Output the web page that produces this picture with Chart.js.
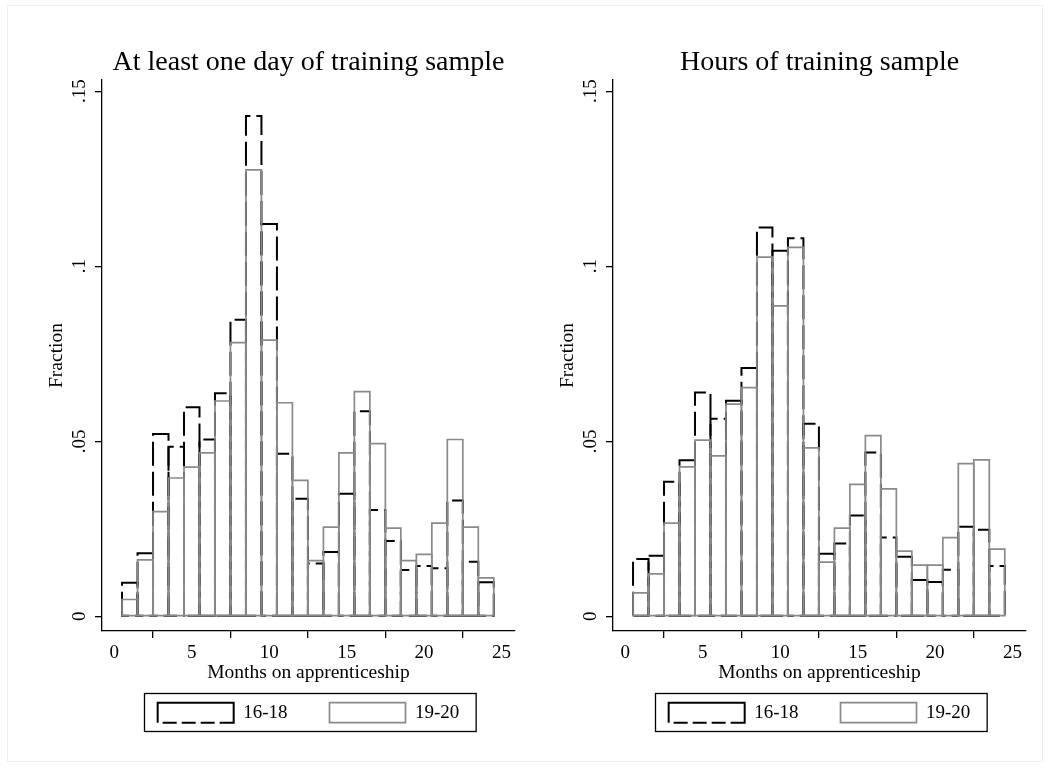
<!DOCTYPE html>
<html>
<head>
<meta charset="utf-8">
<script src="https://cdn.jsdelivr.net/npm/chart.js@4.4.1/dist/chart.umd.min.js"></script>
<style>
  html, body { margin: 0; padding: 0; background: #ffffff; overflow: hidden; }
  #page { position: relative; width: 1052px; height: 769px; background: #fff; }
  #frame { position: absolute; left: 7px; top: 5px; width: 1036px; height: 757px; border: 1px solid #efefef; box-sizing: border-box; }
  canvas { position: absolute; top: 0; }
  #c1 { left: 0px; }
  #c2 { left: 511px; }
</style>
</head>
<body>
<div id="page">
  <div id="frame"></div>
  <canvas id="c1" width="526" height="769"></canvas>
  <canvas id="c2" width="526" height="769"></canvas>
</div>
<script>
// ---------- data ----------
const months = [1,2,3,4,5,6,7,8,9,10,11,12,13,14,15,16,17,18,19,20,21,22,23,24];

const seriesNames = ['16-18', '19-20'];

const titles = ['At least one day of training sample', 'Hours of training sample'];

// "At least one day of training sample" panel
const dayTrain16_18 = [0.0096,0.0180,0.0521,0.0484,0.0597,0.0505,0.0637,0.0847,0.1429,0.1121,0.0464,0.0336,
                       0.0151,0.0184,0.0350,0.0586,0.0304,0.0215,0.0132,0.0144,0.0137,0.0331,0.0156,0.0097];
const dayTrain19_20 = [0.0048,0.0161,0.0299,0.0395,0.0426,0.0467,0.0615,0.0782,0.1275,0.0789,0.0610,0.0388,
                       0.0159,0.0255,0.0467,0.0642,0.0493,0.0252,0.0159,0.0177,0.0266,0.0505,0.0255,0.0110];

// "Hours of training sample" panel
const hoursTrain16_18 = [0.0164,0.0173,0.0384,0.0446,0.0639,0.0564,0.0616,0.0709,0.1111,0.1044,0.1080,0.0550,
                         0.0179,0.0208,0.0288,0.0468,0.0225,0.0170,0.0104,0.0098,0.0133,0.0256,0.0247,0.0144];
const hoursTrain19_20 = [0.0067,0.0121,0.0266,0.0427,0.0503,0.0458,0.0606,0.0653,0.1026,0.0887,0.1054,0.0481,
                         0.0155,0.0252,0.0377,0.0516,0.0364,0.0186,0.0146,0.0146,0.0225,0.0436,0.0447,0.0192];

const xTicks = [0, 5, 10, 15, 20, 25];
const yTicks = [0, 0.05, 0.1, 0.15];
const yTickLabels = ['0', '.05', '.1', '.15'];

const xTitle = 'Months on apprenticeship';
const yTitle = 'Fraction';

// ---------- styling ----------
const FONT = 'Liberation Serif';
const GRAY = '#8a8a8a';
const BLACK_DASH = [24, 6];
const LEGEND_DASH = [110, 5, 14, 5, 14, 5, 14, 5];

// outline drawing for histogram bars (Stata-style hollow bars)
const outlinePlugin = {
  id: 'outlineBars',
  afterDatasetsDraw(chart) {
    const ctx = chart.ctx;
    ctx.save();
    chart.data.datasets.forEach((ds, di) => {
      const meta = chart.getDatasetMeta(di);
      ctx.lineWidth = ds.outlineWidth;
      ctx.strokeStyle = ds.outlineColor;
      ctx.setLineDash(ds.outlineDash || []);
      ctx.lineJoin = 'miter';
      meta.data.forEach(bar => {
        const p = bar.getProps(['x', 'y', 'base', 'width'], true);
        const l = p.x - p.width / 2, r = p.x + p.width / 2;
        ctx.beginPath();
        ctx.moveTo(l, p.base);
        ctx.lineTo(l, p.y);
        ctx.lineTo(r, p.y);
        ctx.lineTo(r, p.base);
        ctx.closePath();
        ctx.stroke();
      });
    });
    ctx.restore();
  }
};

// frame around legend
const legendFrame = {
  id: 'legendFrame',
  afterDraw(chart) {
    const lg = chart.legend;
    if (!lg || !lg.lineWidths) return;
    const ctx = chart.ctx;
    const pad = lg.options.labels.padding;
    const boxH = lg.options.labels.boxHeight;
    const cw = lg.lineWidths[0] - pad;
    const cx = (lg.left + lg.right) / 2;
    const top = lg.top + pad;
    ctx.save();
    ctx.strokeStyle = '#000';
    ctx.lineWidth = 1.3;
    ctx.setLineDash([]);
    ctx.strokeRect(Math.round(cx - cw / 2 - 14) + 0.5, Math.round(top - 9.5) + 0.5, cw + 30, boxH + 18);
    ctx.restore();
  }
};

function makeChart(canvasId, title, d1618, d1920) {
  const ctx = document.getElementById(canvasId).getContext('2d');
  return new Chart(ctx, {
    type: 'bar',
    data: {
      labels: months,
      datasets: [
        {
          label: seriesNames[0],
          data: d1618,
          backgroundColor: 'rgba(0,0,0,0)',
          borderWidth: 0,
          outlineColor: '#000000',
          outlineWidth: 2,
          outlineDash: BLACK_DASH,
          barPercentage: 1,
          categoryPercentage: 1,
          grouped: false
        },
        {
          label: seriesNames[1],
          data: d1920,
          backgroundColor: 'rgba(0,0,0,0)',
          borderWidth: 0,
          outlineColor: GRAY,
          outlineWidth: 1.7,
          outlineDash: [],
          barPercentage: 1,
          categoryPercentage: 1,
          grouped: false
        }
      ]
    },
    options: {
      responsive: false,
      animation: false,
      devicePixelRatio: 1,
      events: [],
      layout: { autoPadding: false, padding: { left: 0, right: 11, top: 0, bottom: 36.3 } },
      plugins: {
        tooltip: { enabled: false },
        title: {
          display: true,
          text: title,
          fullSize: false,
          color: '#000',
          font: { family: FONT, size: 28, weight: 'normal', lineHeight: 1.2 },
          padding: { top: 45.5, bottom: 0.9 }
        },
        legend: {
          display: true,
          position: 'bottom',
          fullSize: false,
          labels: {
            boxWidth: 76,
            boxHeight: 20,
            padding: 42,
            color: '#000',
            font: { family: FONT, size: 19 },
            generateLabels(chart) {
              return chart.data.datasets.map((ds, i) => ({
                text: ds.label,
                fillStyle: 'rgba(0,0,0,0)',
                strokeStyle: ds.outlineColor,
                lineWidth: ds.outlineWidth,
                lineDash: i === 0 ? LEGEND_DASH : [],
                hidden: false,
                fontColor: '#000',
                datasetIndex: i
              }));
            }
          }
        }
      },
      scales: {
        x: {
          type: 'linear',
          min: -0.794,
          max: 25.87,
          offset: false,
          afterFit(s) { s.height = 29.7; },
          afterBuildTicks(s) { s.ticks = xTicks.map(v => ({ value: v })); },
          grid: { display: true, drawOnChartArea: false, drawTicks: true, tickLength: 7, color: '#000', lineWidth: 1.3 },
          border: { display: true, color: '#000', width: 1.3 },
          ticks: {
            color: '#000',
            font: { family: FONT, size: 19 },
            padding: 4,
            maxRotation: 0,
            autoSkip: false,
            callback: (v) => String(v)
          },
          title: {
            display: true,
            text: xTitle,
            color: '#000',
            font: { family: FONT, size: 19.5, lineHeight: 1.2 },
            padding: { top: 0, bottom: -24 }
          }
        },
        y: {
          type: 'linear',
          min: -0.0042,
          max: 0.1532,
          afterFit(s) { s.width = 102; },
          afterBuildTicks(s) { s.ticks = yTicks.map(v => ({ value: v })); },
          grid: { display: true, drawOnChartArea: false, drawTicks: true, tickLength: 7, color: '#000', lineWidth: 1.3 },
          border: { display: true, color: '#000', width: 1.3 },
          ticks: {
            color: '#000',
            font: { family: FONT, size: 19 },
            padding: 3,
            minRotation: 90,
            maxRotation: 90,
            crossAlign: 'center',
            autoSkip: false,
            callback: (v) => {
              const i = yTicks.findIndex(t => Math.abs(t - v) < 1e-9);
              return i >= 0 ? yTickLabels[i] : '';
            }
          },
          title: {
            display: true,
            text: yTitle,
            color: '#000',
            font: { family: FONT, size: 19.5, lineHeight: 1.2 },
            padding: { top: 45.3, bottom: 0 }
          }
        }
      }
    },
    plugins: [outlinePlugin, legendFrame]
  });
}

makeChart('c1', titles[0], dayTrain16_18, dayTrain19_20);
makeChart('c2', titles[1], hoursTrain16_18, hoursTrain19_20);
</script>
</body>
</html>
